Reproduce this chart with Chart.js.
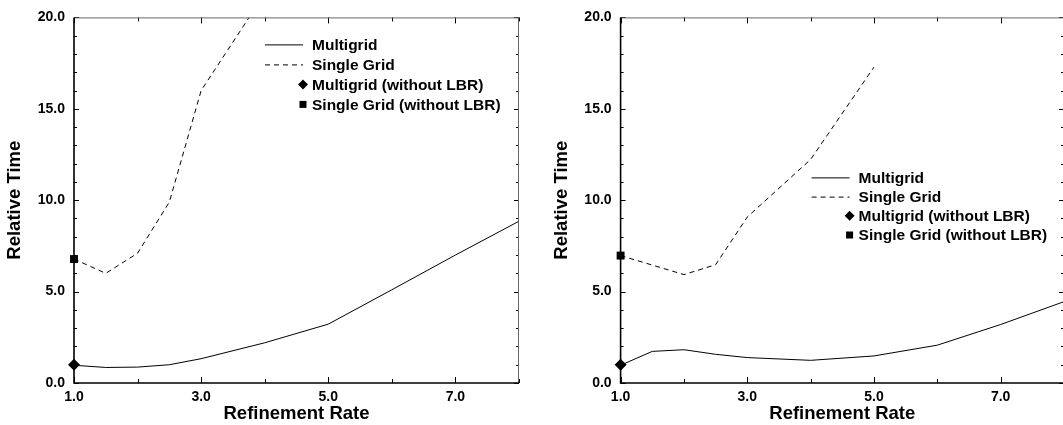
<!DOCTYPE html>
<html>
<head>
<meta charset="utf-8">
<script src="https://cdn.jsdelivr.net/npm/chart.js@4/dist/chart.umd.min.js"></script>
<style>
  html, body { margin: 0; padding: 0; background: #fff; overflow: hidden; }
  canvas { position: absolute; top: 0; }
  #left { left: 0; }
  #right { left: 530px; }
</style>
</head>
<body>
<canvas id="left" width="530" height="425"></canvas>
<canvas id="right" width="545" height="425"></canvas>
<script>
// values
let leftMultigridX = [1, 1.5, 2, 2.5, 3, 4, 5, 6, 7, 8]
let leftMultigrid = [0.97, 0.85, 0.87, 1.0, 1.33, 2.2, 3.22, 5.1, 7.0, 8.85]
let leftSingleX = [1, 1.5, 2, 2.5, 3, 4]
let leftSingle = [6.78, 6.0, 7.1, 9.9, 16.0, 21.3]

let rightMultigridX = [1, 1.5, 2, 2.5, 3, 4, 5, 6, 7, 8]
let rightMultigrid = [0.97, 1.73, 1.82, 1.57, 1.39, 1.24, 1.48, 2.07, 3.2, 4.45]
let rightSingleX = [1, 2, 2.5, 3, 4, 5]
let rightSingle = [6.97, 5.93, 6.47, 9.08, 12.23, 17.28]

// runs without LBR, one point each at rate 1.0
let leftNoLbrMulti = [1, 1.0]
let leftNoLbrSingle = [1, 6.78]
let rightNoLbrMulti = [1, 1.0]
let rightNoLbrSingle = [1, 6.97]

let labels = ['Multigrid', 'Single Grid', 'Multigrid (without LBR)', 'Single Grid (without LBR)']
let xTitle = 'Refinement Rate'
let yTitle = 'Relative Time'

const FONT = "'Liberation Sans', Arial, Helvetica, sans-serif"
Chart.defaults.font.family = FONT
Chart.defaults.color = '#000'

function pts(xs, ys) {
  return xs.map((x, i) => ({ x: x, y: ys[i] }))
}

// box frame with inward ticks on all four sides
const frameTicks = {
  id: 'frameTicks',
  afterDatasetsDraw(chart) {
    const { ctx, chartArea: a, scales } = chart
    const x = scales.x
    const y = scales.y
    ctx.save()
    ctx.strokeStyle = '#000'
    ctx.lineWidth = 1
    ctx.beginPath()
    y.ticks.forEach((t) => {
      const py = Math.round(y.getPixelForValue(t.value)) + 0.5
      const len = t.value % 5 === 0 ? 5 : 3
      ctx.moveTo(a.left, py); ctx.lineTo(a.left + len, py)
      ctx.moveTo(a.right, py); ctx.lineTo(a.right - len, py)
    })
    x.ticks.forEach((t) => {
      const px = Math.round(x.getPixelForValue(t.value)) + 0.5
      const len = t.value % 2 === 1 ? 6 : 4
      ctx.moveTo(px, a.bottom); ctx.lineTo(px, a.bottom - len)
      ctx.moveTo(px, a.top); ctx.lineTo(px, a.top + len)
    })
    ctx.stroke()

    ctx.strokeStyle = '#666'
    ctx.beginPath()
    ctx.moveTo(a.left, a.top + 0.5); ctx.lineTo(a.right, a.top + 0.5)
    ctx.moveTo(a.right - 0.5, a.top); ctx.lineTo(a.right - 0.5, a.bottom)
    ctx.stroke()

    ctx.strokeStyle = '#000'
    ctx.lineWidth = 1.6
    ctx.beginPath()
    ctx.moveTo(a.left, a.top); ctx.lineTo(a.left, a.bottom); ctx.lineTo(a.right, a.bottom)
    ctx.stroke()
    ctx.restore()
  },
}

// legend drawn inside the plot area
const boxLegend = {
  id: 'boxLegend',
  afterDraw(chart, args, opts) {
    const { ctx, chartArea: a } = chart
    const x0 = a.left + opts.dx
    const x1 = x0 + 38
    const tx = x0 + 47
    ctx.save()
    ctx.font = 'bold 15.5px ' + FONT
    ctx.textBaseline = 'middle'
    ctx.fillStyle = '#000'
    ctx.strokeStyle = '#000'
    ctx.lineWidth = 1
    chart.data.datasets.forEach((ds, i) => {
      const yy = a.top + opts.dy + i * opts.row
      if (ds.showLine !== false) {
        ctx.setLineDash(ds.borderDash || [])
        ctx.beginPath()
        ctx.moveTo(x0, yy + 0.5); ctx.lineTo(x1, yy + 0.5)
        ctx.stroke()
        ctx.setLineDash([])
      } else if (ds.pointStyle === 'rectRot') {
        ctx.beginPath()
        ctx.moveTo(x1 - 5, yy); ctx.lineTo(x1, yy - 5); ctx.lineTo(x1 + 5, yy); ctx.lineTo(x1, yy + 5)
        ctx.closePath()
        ctx.fill()
      } else {
        ctx.fillRect(x1 - 3.5, yy - 3.5, 7, 7)
      }
      ctx.fillText(ds.label, tx, yy + 1)
    })
    ctx.restore()
  },
}

function makeChart(el, multiX, multiY, singleX, singleY, noMulti, noSingle, padLeft, legend) {
  return new Chart(el, {
    type: 'scatter',
    data: {
      datasets: [
        {
          label: labels[0],
          data: pts(multiX, multiY),
          showLine: true,
          borderColor: '#000',
          borderWidth: 1,
          pointRadius: 0,
        },
        {
          label: labels[1],
          data: pts(singleX, singleY),
          showLine: true,
          borderColor: '#000',
          borderWidth: 1,
          borderDash: [5, 4],
          pointRadius: 0,
        },
        {
          label: labels[2],
          data: [{ x: noMulti[0], y: noMulti[1] }],
          showLine: false,
          pointStyle: 'rectRot',
          pointRadius: 6,
          backgroundColor: '#000',
          borderColor: '#000',
          borderWidth: 0,
          clip: false,
        },
        {
          label: labels[3],
          data: [{ x: noSingle[0], y: noSingle[1] }],
          showLine: false,
          pointStyle: 'rect',
          pointRadius: 5.6,
          backgroundColor: '#000',
          borderColor: '#000',
          borderWidth: 0,
          clip: false,
        },
      ],
    },
    options: {
      responsive: false,
      animation: false,
      layout: { padding: { left: padLeft, right: 11, top: 13, bottom: 0 } },
      plugins: {
        legend: { display: false },
        tooltip: { enabled: false },
        boxLegend: legend,
      },
      scales: {
        x: {
          type: 'linear',
          min: 1,
          max: 8,
          grid: { display: false, drawTicks: false },
          border: { display: false },
          ticks: {
            stepSize: 1,
            autoSkip: false,
            maxRotation: 0,
            padding: 6,
            font: { size: 14, weight: 'bold' },
            callback: (v) => (v % 2 === 1 ? v.toFixed(1) : ''),
          },
          title: { display: true, text: xTitle, font: { size: 18.5, weight: 'bold' }, padding: 0 },
          afterFit: (s) => { s.height = 42 },
        },
        y: {
          min: 0,
          max: 20,
          grid: { display: false, drawTicks: false },
          border: { display: false },
          ticks: {
            stepSize: 1,
            autoSkip: false,
            padding: 9,
            font: { size: 14, weight: 'bold' },
            callback: (v) => (v % 5 === 0 ? v.toFixed(1) : ''),
          },
          title: { display: true, text: yTitle, font: { size: 18.5, weight: 'bold' } },
          afterFit: (s) => { s.width = 74 },
        },
      },
    },
    plugins: [frameTicks, boxLegend],
  })
}

makeChart(document.getElementById('left'), leftMultigridX, leftMultigrid, leftSingleX, leftSingle,
  leftNoLbrMulti, leftNoLbrSingle, 0, { dx: 191, dy: 27, row: 20 })
makeChart(document.getElementById('right'), rightMultigridX, rightMultigrid, rightSingleX, rightSingle,
  rightNoLbrMulti, rightNoLbrSingle, 16.6, { dx: 191, dy: 160, row: 19.2 })
</script>
</body>
</html>
